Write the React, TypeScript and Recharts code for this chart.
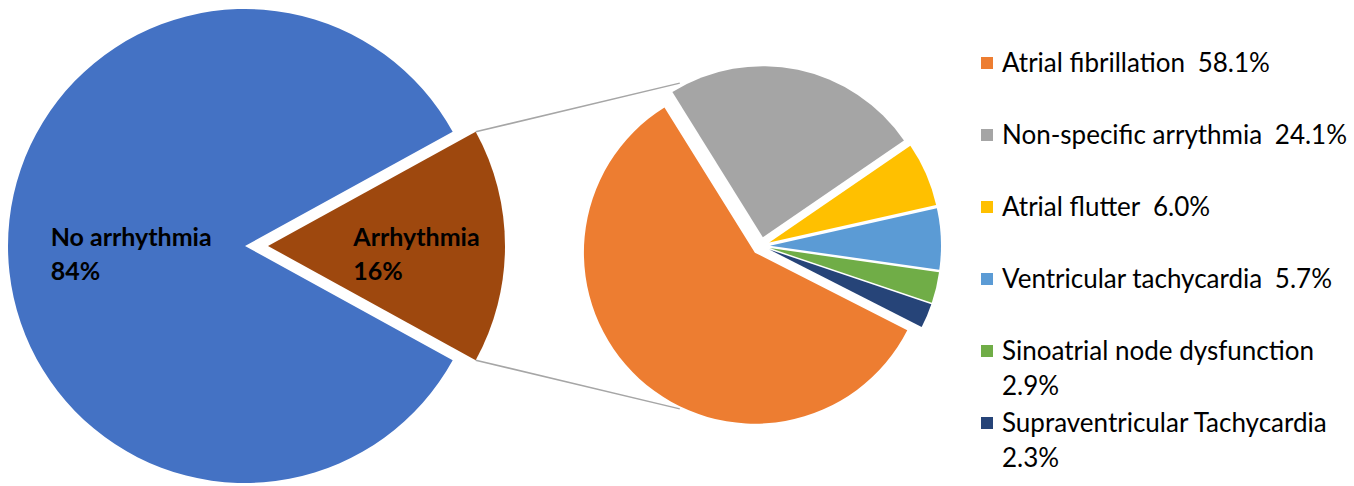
import React from "react";
import { PieChart, Pie, Cell } from "recharts";

// overview pie
const overviewNames = ["No arrhythmia", "Arrhythmia"];
const overviewValues = [84, 16];
const overviewColors = ["#4472C4", "#9E480E"];

// breakdown of the arrhythmia group (legend order)
const detailNames = [
  "Atrial fibrillation",
  "Non-specific arrythmia",
  "Atrial flutter",
  "Ventricular tachycardia",
  "Sinoatrial node dysfunction",
  "Supraventricular Tachycardia",
];
const detailValues = [58.1, 24.1, 6.0, 5.7, 2.9, 2.3];
const detailColors = ["#ED7D31", "#A5A5A5", "#FFC000", "#5B9BD5", "#70AD47", "#264478"];

const W = 1354;
const H = 486;
const FONT = "Lato, 'Open Sans', sans-serif";

const LEFT = { cx: 245, cy: 246, r: 237 };
const RIGHT = { cx: 761, cy: 246, r: 171 };
const LEFT_EXPLODE = [0, 23];
const RIGHT_EXPLODE = 9;
const leftHalf = (360 * overviewValues[1]) / (overviewValues[0] + overviewValues[1]) / 2;
const LEFT_START = leftHalf;
const LEFT_END = leftHalf + 360;
const RIGHT_START = -27;
const RIGHT_END = -387;
// where the label text starts, as a share of the radius along the slice middle
const LABEL_POS = [0.82, 0.36];

const rad = (a: number) => (a * Math.PI) / 180;

function sliceMids(values: number[], start: number, end: number) {
  const total = values.reduce((s, v) => s + v, 0);
  let acc = start;
  return values.map((v) => {
    const span = ((end - start) * v) / total;
    const mid = acc + span / 2;
    acc += span;
    return mid;
  });
}

const overviewData = overviewNames.map((name, i) => ({ name, value: overviewValues[i] }));
const detailData = detailNames.map((name, i) => ({ name, value: detailValues[i] }));

function ExplodedPie(props: {
  data: { name: string; value: number }[];
  colors: string[];
  cx: number;
  cy: number;
  r: number;
  start: number;
  end: number;
  explode: number[];
  withLabels?: boolean;
  id: string;
}) {
  const { data, colors, cx, cy, r, start, end, explode, withLabels, id } = props;
  const mids = sliceMids(
    data.map((d) => d.value),
    start,
    end
  );
  return data.map((_, j) => {
    const dx = explode[j] * Math.cos(rad(mids[j]));
    const dy = -explode[j] * Math.sin(rad(mids[j]));
    return (
      <Pie
        key={`${id}-${j}`}
        data={data}
        dataKey="value"
        nameKey="name"
        cx={cx + dx}
        cy={cy + dy}
        outerRadius={r}
        startAngle={start}
        endAngle={end}
        stroke="none"
        isAnimationActive={false}
        labelLine={false}
        label={
          withLabels
            ? (p: any) => {
                if (p.index !== j) return null;
                const x = p.cx + Math.cos(rad(p.midAngle)) * p.outerRadius * LABEL_POS[j];
                return (
                  <text
                    x={x}
                    y={p.cy}
                    fill="#000"
                    fontFamily={FONT}
                    fontWeight={700}
                    fontSize={25}
                    textAnchor="start"
                  >
                    <tspan x={x} y={p.cy}>{p.name}</tspan>
                    <tspan x={x} y={p.cy + 34}>{`${Math.round(p.percent * 100)}%`}</tspan>
                  </text>
                );
              }
            : false
        }
      >
        {data.map((d, i) => (
          <Cell key={d.name} fill={i === j ? colors[i] : "none"} />
        ))}
      </Pie>
    );
  });
}

function Connectors() {
  const bx = LEFT.cx + LEFT_EXPLODE[1];
  const pts = [1, -1].map((s) => {
    const a1 = rad(s * leftHalf);
    const a2 = rad(180 - s * 63.5);
    return {
      x1: bx + LEFT.r * Math.cos(a1),
      y1: LEFT.cy - LEFT.r * Math.sin(a1),
      x2: RIGHT.cx + (RIGHT.r + 11) * Math.cos(a2),
      y2: RIGHT.cy - (RIGHT.r + 11) * Math.sin(a2),
    };
  });
  return (
    <svg width={W} height={H} style={{ position: "absolute", left: 0, top: 0, pointerEvents: "none" }}>
      {pts.map((p, i) => (
        <line key={i} {...p} stroke="#A6A6A6" strokeWidth={1.5} />
      ))}
    </svg>
  );
}

function Legend() {
  return (
    <div style={{ position: "absolute", left: 981, top: 0, width: 373, fontFamily: FONT, fontSize: 26, color: "#000" }}>
      {detailNames.map((name, i) => (
        <div
          key={name}
          style={{ position: "absolute", top: 45 + 72 * i, left: 0, display: "flex", alignItems: "flex-start", width: 373 }}
        >
          <span
            style={{ width: 12, height: 12, background: detailColors[i], marginTop: 11.5, marginRight: 9, flex: "none" }}
          />
          <span style={{ lineHeight: "35px", width: 352 }}>
            <span style={{ whiteSpace: "nowrap", marginRight: 6 }}>{name}</span>{" "}
            <span style={{ whiteSpace: "nowrap", display: "inline-block" }}>
              {detailValues[i].toFixed(1)}%
            </span>
          </span>
        </div>
      ))}
    </div>
  );
}

export default function App() {
  return (
    <div style={{ position: "absolute", left: 0, top: 0, width: W, height: H, background: "#fff" }}>
      <PieChart width={W} height={H} margin={{ top: 0, right: 0, bottom: 0, left: 0 }}>
        {ExplodedPie({
          id: "overview",
          data: overviewData,
          colors: overviewColors,
          cx: LEFT.cx,
          cy: LEFT.cy,
          r: LEFT.r,
          start: LEFT_START,
          end: LEFT_END,
          explode: LEFT_EXPLODE,
          withLabels: true,
        })}
        {ExplodedPie({
          id: "detail",
          data: detailData,
          colors: detailColors,
          cx: RIGHT.cx,
          cy: RIGHT.cy,
          r: RIGHT.r,
          start: RIGHT_START,
          end: RIGHT_END,
          explode: detailValues.map(() => RIGHT_EXPLODE),
        })}
      </PieChart>
      <Connectors />
      <Legend />
    </div>
  );
}
